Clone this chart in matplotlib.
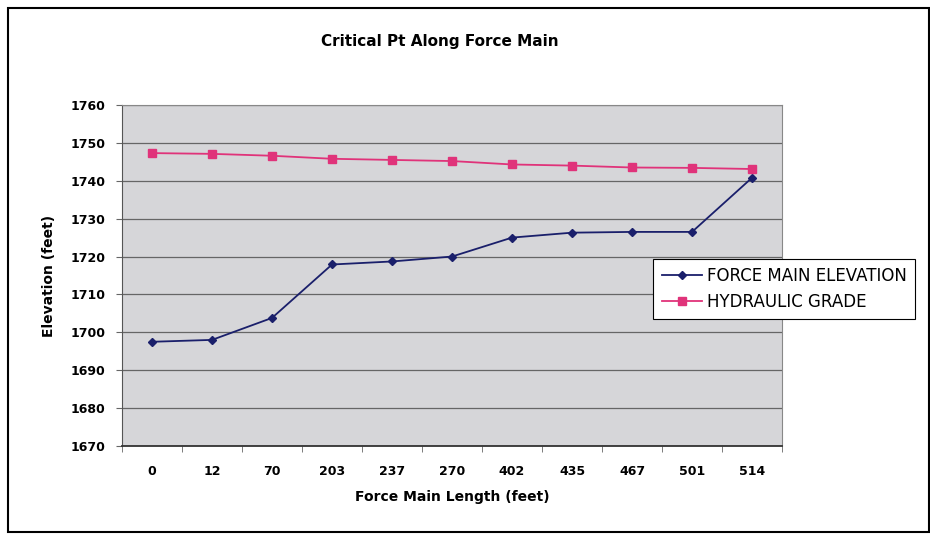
import matplotlib
matplotlib.use("Agg")
import matplotlib.pyplot as plt
from matplotlib.patches import Rectangle

# chart data
lengths = ["0", "12", "70", "203", "237", "270", "402", "435", "467", "501", "514"]
force_main = [1697.5, 1698.0, 1703.8, 1717.9, 1718.7, 1720.0, 1725.0, 1726.3, 1726.5, 1726.5, 1740.8]
hydraulic = [1747.3, 1747.1, 1746.6, 1745.8, 1745.5, 1745.2, 1744.3, 1744.0, 1743.5, 1743.4, 1743.1]
y_ticks = list(range(1670, 1761, 10))

fig = plt.figure(figsize=(9.3, 5.37), dpi=100)
ax = fig.add_axes([0.1312, 0.1695, 0.7097, 0.635])
ax.set_facecolor("#d6d6d9")

x = list(range(len(lengths)))
ax.plot(x, force_main, color="#1a1f6b", marker="D", markersize=4.5, linewidth=1.3,
        label="FORCE MAIN ELEVATION", zorder=3)
ax.plot(x, hydraulic, color="#e0337a", marker="s", markersize=6, linewidth=1.3,
        label="HYDRAULIC GRADE", zorder=3)

ax.set_xlim(-0.5, len(lengths) - 0.5)
ax.set_ylim(1670, 1760)
ax.set_yticks(y_ticks)
ax.set_yticklabels([str(v) for v in y_ticks], fontweight="bold", fontsize=9)
ax.set_xticks(x)
ax.set_xticklabels(lengths, fontweight="bold", fontsize=9)
ax.set_xticks([i - 0.5 for i in range(len(lengths) + 1)], minor=True)
ax.tick_params(axis="x", which="major", length=0, pad=14)
ax.tick_params(axis="x", which="minor", length=4, color="#666666")
ax.tick_params(axis="y", length=4, color="#666666", pad=8)

ax.yaxis.grid(True, color="#666666", linewidth=0.9)
ax.set_axisbelow(True)
for side in ["top", "right"]:
    ax.spines[side].set_color("#888888")
ax.spines["left"].set_color("#555555")
ax.spines["bottom"].set_color("#333333")
ax.spines["bottom"].set_linewidth(1.3)

ax.set_xlabel("Force Main Length (feet)", fontweight="bold", fontsize=10, labelpad=8)
ax.set_ylabel("Elevation (feet)", fontweight="bold", fontsize=10, labelpad=10)
fig.text(0.473, 0.922, "Critical Pt Along Force Main", ha="center", va="center",
         fontweight="bold", fontsize=11)

leg = fig.legend(loc="center", bbox_to_anchor=(0.843, 0.462), fontsize=12,
                 frameon=True, fancybox=False, edgecolor="black", framealpha=1,
                 handlelength=2.4, handletextpad=0.3, borderpad=0.5,
                 labelspacing=0.45, borderaxespad=0)
leg.get_frame().set_linewidth(0.8)

# outer chart frame
fig.patches.append(Rectangle((0.009, 0.01), 0.99, 0.975, transform=fig.transFigure,
                             fill=False, edgecolor="black", linewidth=1.5))

fig.savefig("out.png", dpi=100)
